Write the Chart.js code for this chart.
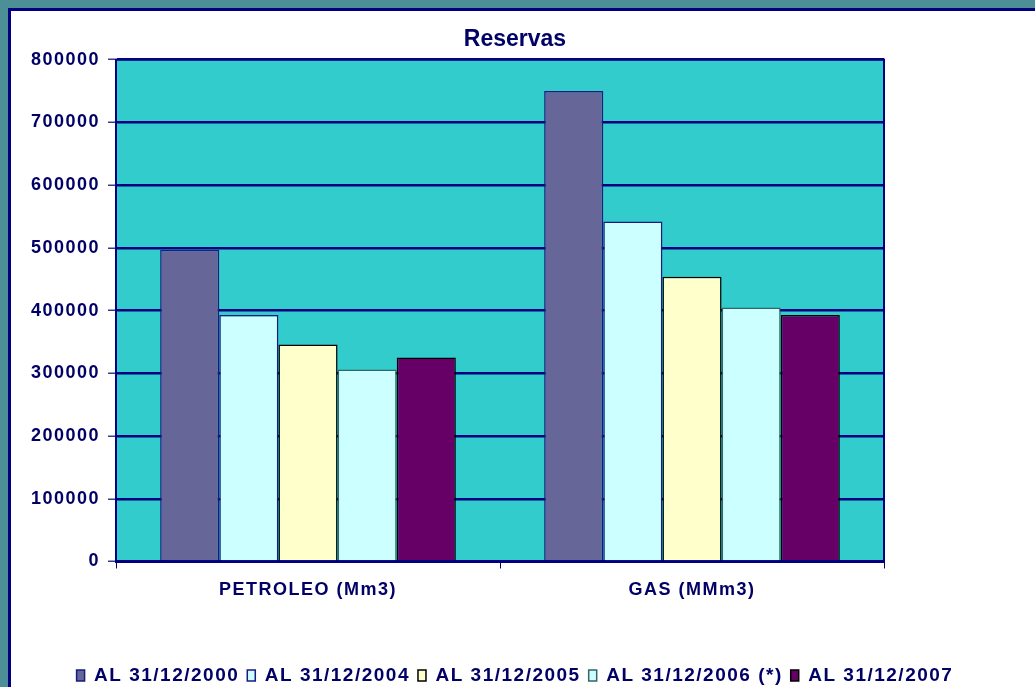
<!DOCTYPE html>
<html>
<head>
<meta charset="utf-8">
<script src="https://cdn.jsdelivr.net/npm/chart.js@4/dist/chart.umd.min.js"></script>
<style>
  html, body { margin: 0; padding: 0; width: 1035px; height: 687px; overflow: hidden; background: #4d8f96; }
  #panel { position: absolute; left: 8px; top: 8px; right: 0; bottom: 0; background: #fff;
           border-left: 3px solid #000080; border-top: 3px solid #000080; }
  #wrap { position: absolute; left: 0; top: 0; width: 1035px; height: 700px; }
</style>
</head>
<body>
<div id="panel"></div>
<div id="wrap"><canvas id="chart"></canvas></div>
<script>
const categories = ["PETROLEO (Mm3)", "GAS (MMm3)"];
const seriesNames = ["AL 31/12/2000", "AL 31/12/2004", "AL 31/12/2005", "AL 31/12/2006 (*)", "AL 31/12/2007"];
const s2000 = [497000, 750000];
const s2004 = [393000, 542000];
const s2005 = [346000, 454000];
const s2006 = [306000, 405000];
const s2007 = [325000, 393000];
const yTicks = [0, 100000, 200000, 300000, 400000, 500000, 600000, 700000, 800000];

const NAVY = "#000080";
const TEXT = "#000066";
const FONT = "'Liberation Sans', Arial, sans-serif";

// ================= PLUGIN =================
// plot background, frame and letter spacing (title without spacing)
const plotArea = {
  id: "plotArea",
  beforeLayout(chart) {
    chart.ctx.letterSpacing = "1.5px";
  },
  beforeDraw(chart) {
    const { ctx, chartArea: a } = chart;
    ctx.letterSpacing = "1.5px";
    const t = chart.titleBlock;
    if (t && !t._noSpacing) {
      const orig = t.draw;
      t.draw = function (...args) {
        const old = this.ctx.letterSpacing;
        this.ctx.letterSpacing = "0px";
        orig.apply(this, args);
        this.ctx.letterSpacing = old;
      };
      t._noSpacing = true;
    }
    ctx.save();
    ctx.fillStyle = "#33cccc";
    ctx.fillRect(a.left, a.top, a.right - a.left, a.bottom - a.top);
    ctx.restore();
  },
  beforeDatasetsDraw(chart) {
    const { ctx, chartArea: a } = chart;
    ctx.save();
    ctx.strokeStyle = NAVY;
    ctx.lineWidth = 2;
    ctx.strokeRect(a.left, a.top, a.right - a.left, a.bottom - a.top);
    ctx.restore();
  }
};

const fills = ["#666699", "#ccffff", "#ffffcc", "#ccffff", "#660066"];
const borders = ["#1a1a80", "#1a1a80", "#000000", "#336666", "#000000"];
const values = [s2000, s2004, s2005, s2006, s2007];

const chart = new Chart(document.getElementById("chart").getContext("2d"), {
  type: "bar",
  data: {
    labels: categories,
    datasets: seriesNames.map((name, i) => ({
      label: name,
      data: values[i],
      backgroundColor: fills[i],
      borderColor: borders[i],
      borderWidth: 1.5,
      categoryPercentage: 0.77,
      barPercentage: 1
    }))
  },
  plugins: [plotArea],
  options: {
    responsive: true,
    maintainAspectRatio: false,
    animation: false,
    layout: { padding: { left: 0, right: 5, top: 10, bottom: 5 } },
    plugins: {
      title: {
        display: true,
        text: "Reservas",
        color: TEXT,
        font: { family: FONT, size: 23, weight: "bold" },
        padding: { top: 16, bottom: 6 }
      },
      legend: {
        position: "bottom",
        labels: {
          color: TEXT,
          boxWidth: 8,
          boxHeight: 11,
          padding: 8,
          font: { family: FONT, size: 19, weight: "bold" }
        }
      },
      tooltip: { enabled: false }
    },
    scales: {
      x: {
        grid: { display: true, drawOnChartArea: false, color: NAVY, tickLength: 7, lineWidth: 1 },
        border: { display: true, color: NAVY, width: 2 },
        ticks: { color: TEXT, padding: 11, font: { family: FONT, size: 18, weight: "bold" } },
        afterFit: s => { s.height = 96.5; }
      },
      y: {
        min: 0,
        max: 800000,
        afterBuildTicks: s => { s.ticks = yTicks.map(v => ({ value: v })); },
        grid: { color: NAVY, lineWidth: 2.5, tickLength: 8, tickColor: "#3a3a8a", tickWidth: 1.5 },
        border: { display: true, color: NAVY, width: 2 },
        ticks: {
          color: TEXT,
          padding: 8,
          font: { family: FONT, size: 18, weight: "bold" },
          callback: v => String(v)
        },
        afterFit: s => { s.width = 116; }
      },
      yRight: {
        position: "right",
        display: true,
        grid: { display: false },
        border: { display: false },
        ticks: { display: false },
        afterFit: s => { s.width = 146; }
      }
    }
  }
});
</script>
</body>
</html>
